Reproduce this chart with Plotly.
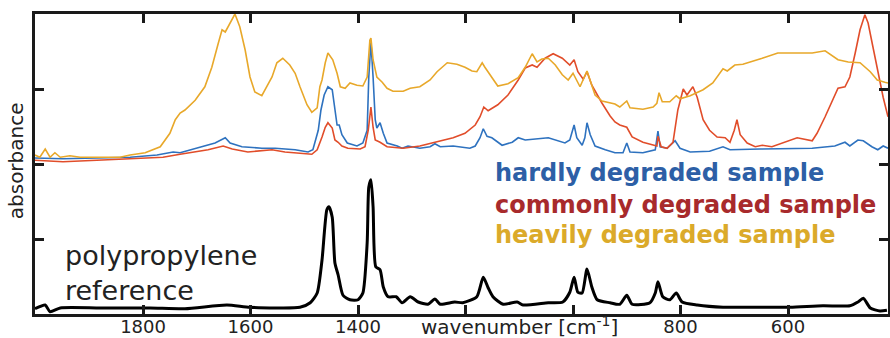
import plotly.graph_objects as go

# ---- data (wavenumber in cm^-1, absorbance in arbitrary offset units) ----
heavy_wn = [2001, 1992, 1982, 1973, 1964, 1954, 1936, 1917, 1880, 1843, 1824, 1796, 1768, 1750, 1740,
            1731, 1722, 1703, 1685, 1672, 1660, 1653, 1647, 1638, 1629, 1620, 1610, 1601, 1592, 1579,
            1573, 1560, 1551, 1540, 1527, 1517, 1508, 1495, 1486, 1476, 1471, 1467, 1461, 1456, 1447,
            1439, 1433, 1424, 1415, 1402, 1391, 1383, 1378, 1376, 1372, 1365, 1355, 1346, 1335, 1316,
            1303, 1285, 1266, 1253, 1234, 1216, 1201, 1188, 1179, 1169, 1164, 1151, 1140, 1121, 1102,
            1089, 1076, 1067, 1058, 1046, 1033, 1020, 1009, 1000, 987, 974, 968, 959, 946, 922,
            913, 900, 894, 870, 851, 844, 840, 834, 820, 808, 801, 782, 758, 740, 721,
            713, 699, 684, 648, 619, 587, 555, 531, 507, 488, 466, 447, 434, 420, 414]
heavy_abs = [2.12, 2.09, 2.20, 2.09, 2.15, 2.09, 2.11, 2.09, 2.09, 2.09, 2.12, 2.15, 2.23, 2.41, 2.59,
             2.68, 2.72, 2.85, 3.03, 3.29, 3.61, 3.79, 3.76, 3.89, 4.00, 3.83, 3.52, 3.16, 2.96, 2.91,
             2.99, 3.16, 3.35, 3.41, 3.32, 3.21, 3.03, 2.79, 2.69, 2.75, 3.03, 3.12, 3.35, 3.48, 3.39,
             3.21, 3.03, 3.01, 3.08, 3.05, 3.04, 3.16, 3.65, 3.68, 3.39, 3.16, 3.09, 3.01, 2.97, 2.97,
             3.01, 3.03, 3.12, 3.23, 3.35, 3.33, 3.29, 3.24, 3.23, 3.35, 3.29, 3.15, 3.04, 3.07, 3.15,
             3.29, 3.47, 3.36, 3.40, 3.41, 3.32, 3.19, 3.12, 3.21, 3.03, 3.24, 3.12, 2.92, 2.84, 2.80,
             2.76, 2.84, 2.75, 2.73, 2.76, 2.81, 2.95, 2.83, 2.83, 2.91, 2.87, 2.91, 2.99, 3.08, 3.27,
             3.24, 3.32, 3.33, 3.41, 3.48, 3.48, 3.48, 3.51, 3.39, 3.36, 3.35, 3.23, 3.12, 3.09, 3.08]

hardly_wn = [2001, 1949, 1886, 1824, 1774, 1744, 1731, 1703, 1666, 1647, 1638, 1616, 1579, 1554, 1517,
             1493, 1484, 1474, 1469, 1463, 1456, 1448, 1443, 1439, 1435, 1430, 1420, 1402, 1391, 1383,
             1380, 1376, 1372, 1368, 1365, 1359, 1353, 1346, 1327, 1318, 1307, 1285, 1266, 1257, 1247,
             1223, 1192, 1182, 1173, 1167, 1160, 1151, 1132, 1113, 1102, 1089, 1046, 1015, 1006, 998,
             993, 983, 978, 974, 968, 959, 940, 922, 907, 900, 894, 870, 847, 842, 838,
             825, 810, 801, 782, 746, 721, 708, 652, 619, 555, 513, 494, 485, 470, 460,
             444, 433, 423, 414]
hardly_abs = [2.08, 2.07, 2.08, 2.09, 2.12, 2.16, 2.15, 2.21, 2.28, 2.35, 2.28, 2.23, 2.21, 2.21, 2.19,
              2.16, 2.19, 2.45, 2.72, 2.92, 3.03, 2.99, 2.72, 2.52, 2.52, 2.39, 2.28, 2.24, 2.28, 2.45,
              3.16, 3.63, 3.16, 2.59, 2.48, 2.55, 2.41, 2.28, 2.24, 2.21, 2.24, 2.21, 2.23, 2.27, 2.23,
              2.24, 2.21, 2.24, 2.35, 2.47, 2.37, 2.35, 2.25, 2.29, 2.35, 2.32, 2.35, 2.28, 2.32, 2.52,
              2.35, 2.25, 2.35, 2.55, 2.39, 2.24, 2.19, 2.15, 2.15, 2.28, 2.16, 2.15, 2.19, 2.44, 2.23,
              2.21, 2.31, 2.21, 2.16, 2.17, 2.23, 2.19, 2.20, 2.20, 2.21, 2.24, 2.29, 2.24, 2.32, 2.31,
              2.23, 2.19, 2.24, 2.21]

common_wn = [2001, 1949, 1886, 1824, 1763, 1731, 1703, 1679, 1651, 1634, 1605, 1560, 1536, 1512, 1486,
             1476, 1471, 1467, 1461, 1456, 1448, 1443, 1437, 1430, 1419, 1396, 1387, 1381, 1376, 1372,
             1368, 1359, 1346, 1316, 1285, 1257, 1223, 1201, 1182, 1173, 1166, 1158, 1140, 1121, 1102,
             1089, 1076, 1067, 1052, 1037, 1020, 1006, 998, 991, 981, 974, 965, 946, 931, 922,
             913, 900, 890, 870, 851, 844, 842, 836, 825, 814, 805, 795, 788, 777, 769,
             758, 746, 732, 717, 708, 700, 695, 689, 676, 661, 648, 630, 606, 583, 555,
             546, 531, 516, 507, 494, 485, 475, 466, 457, 451, 442, 433, 423, 414]
common_abs = [2.05, 2.03, 2.05, 2.07, 2.09, 2.13, 2.16, 2.19, 2.24, 2.20, 2.16, 2.19, 2.16, 2.15, 2.13,
              2.19, 2.28, 2.36, 2.49, 2.55, 2.48, 2.32, 2.29, 2.24, 2.21, 2.20, 2.23, 2.45, 2.76, 2.49,
              2.32, 2.29, 2.23, 2.21, 2.24, 2.29, 2.35, 2.41, 2.52, 2.63, 2.76, 2.71, 2.79, 2.92, 3.12,
              3.28, 3.32, 3.29, 3.41, 3.47, 3.41, 3.32, 3.39, 3.23, 3.13, 3.23, 3.05, 2.81, 2.64, 2.56,
              2.52, 2.49, 2.36, 2.29, 2.25, 2.24, 2.37, 2.23, 2.21, 2.29, 2.72, 3.00, 2.92, 3.03, 2.89,
              2.59, 2.45, 2.36, 2.35, 2.29, 2.45, 2.59, 2.39, 2.28, 2.23, 2.25, 2.23, 2.29, 2.35, 2.31,
              2.41, 2.63, 2.88, 3.01, 3.03, 3.16, 3.48, 3.79, 3.99, 3.88, 3.56, 3.25, 2.89, 2.63]

ref_wn = [2001, 1982, 1973, 1954, 1880, 1787, 1722, 1644, 1601, 1508, 1489, 1476, 1467, 1458, 1454,
          1448, 1443, 1437, 1428, 1415, 1400, 1391, 1383, 1380, 1376, 1372, 1367, 1359, 1353, 1344,
          1329, 1318, 1303, 1288, 1270, 1257, 1247, 1220, 1205, 1179, 1167, 1158, 1149, 1130, 1104,
          1093, 1046, 1019, 1006, 998, 991, 983, 974, 965, 955, 931, 913, 900, 890, 857,
          847, 842, 833, 820, 808, 797, 769, 721, 658, 596, 535, 485, 470, 460, 447,
          429, 416]
ref_abs = [0.07, 0.12, 0.03, 0.08, 0.08, 0.08, 0.07, 0.12, 0.09, 0.09, 0.15, 0.28, 0.72, 1.39, 1.43,
           1.29, 0.68, 0.52, 0.25, 0.19, 0.19, 0.28, 0.95, 1.69, 1.79, 1.43, 0.63, 0.59, 0.36, 0.23,
           0.23, 0.15, 0.23, 0.16, 0.13, 0.20, 0.13, 0.16, 0.15, 0.23, 0.49, 0.35, 0.23, 0.13, 0.16,
           0.12, 0.15, 0.16, 0.29, 0.49, 0.29, 0.28, 0.60, 0.36, 0.19, 0.15, 0.13, 0.25, 0.13, 0.15,
           0.28, 0.43, 0.23, 0.19, 0.28, 0.16, 0.12, 0.09, 0.09, 0.09, 0.11, 0.11, 0.16, 0.21, 0.08,
           0.04, 0.05]

x_label_vals = [1800, 1600, 1400, 800, 600]
x_label_text = ["1800", "1600", "1400", "800", "600"]
x_unlabelled_ticks = [1200, 1000]
y_tick_vals = [1, 2, 3]

series_labels = ["hardly degraded sample", "commonly degraded sample", "heavily degraded sample"]
label_colors = ["#2d5fa6", "#a82a2c", "#dbaa2a"]

FONT = "DejaVu Sans"
INK = "#222222"

fig = go.Figure()
fig.add_trace(go.Scatter(x=hardly_wn, y=hardly_abs, mode="lines",
                         line=dict(color="#2e72bf", width=1.6), name=series_labels[0]))
fig.add_trace(go.Scatter(x=common_wn, y=common_abs, mode="lines",
                         line=dict(color="#e14d2a", width=1.6), name=series_labels[1]))
fig.add_trace(go.Scatter(x=heavy_wn, y=heavy_abs, mode="lines",
                         line=dict(color="#e8a82a", width=1.6), name=series_labels[2]))
fig.add_trace(go.Scatter(x=ref_wn, y=ref_abs, mode="lines",
                         line=dict(color="#000000", width=3, shape="spline", smoothing=0.6),
                         name="polypropylene reference"))

axis_common = dict(showline=True, linecolor="#1a1a1a", linewidth=2.5, mirror="ticks",
                   ticks="inside", ticklen=9, tickwidth=2.5, tickcolor="#1a1a1a",
                   showgrid=False, zeroline=False, automargin=False)

fig.update_xaxes(range=[2001, 414], tickvals=x_label_vals, ticktext=x_label_text,
                 tickfont=dict(family=FONT, size=18, color=INK), ticklabelstandoff=-5,
                 minor=dict(tickvals=x_unlabelled_ticks, ticks="inside", ticklen=9, tickwidth=2.5,
                            tickcolor="#1a1a1a", showgrid=False),
                 **axis_common)
fig.update_yaxes(range=[0, 4], tickvals=y_tick_vals, showticklabels=False, **axis_common)

annotations = [
    dict(text="wavenumber [cm<sup>-1</sup>]", xref="x", yref="paper", x=1100, y=-0.04,
         xanchor="center", yanchor="middle", showarrow=False,
         font=dict(family=FONT, size=20, color=INK)),
    dict(text="absorbance", xref="paper", yref="paper", x=-0.022, y=0.51, textangle=-90,
         xanchor="center", yanchor="middle", showarrow=False,
         font=dict(family=FONT, size=20, color=INK)),
    dict(text="polypropylene<br>reference", xref="paper", yref="paper", x=0.033, y=0.138,
         xanchor="left", yanchor="middle", align="left", showarrow=False,
         font=dict(family=FONT, size=27, color=INK)),
]
label_y = [0.47, 0.363, 0.263]
for lab, col, yy in zip(series_labels, label_colors, label_y):
    annotations.append(dict(text="<b>" + lab + "</b>", xref="paper", yref="paper", x=0.537, y=yy,
                            xanchor="left", yanchor="middle", showarrow=False,
                            font=dict(family=FONT, size=24, color=col)))

fig.update_layout(width=890, height=338, margin=dict(l=35, r=2, t=14, b=24, autoexpand=False),
                  paper_bgcolor="white", plot_bgcolor="white", showlegend=False,
                  annotations=annotations)

fig.write_html("out.html", config={"displayModeBar": False},
               post_script="document.body.style.margin='0';document.body.style.overflow='hidden';")
